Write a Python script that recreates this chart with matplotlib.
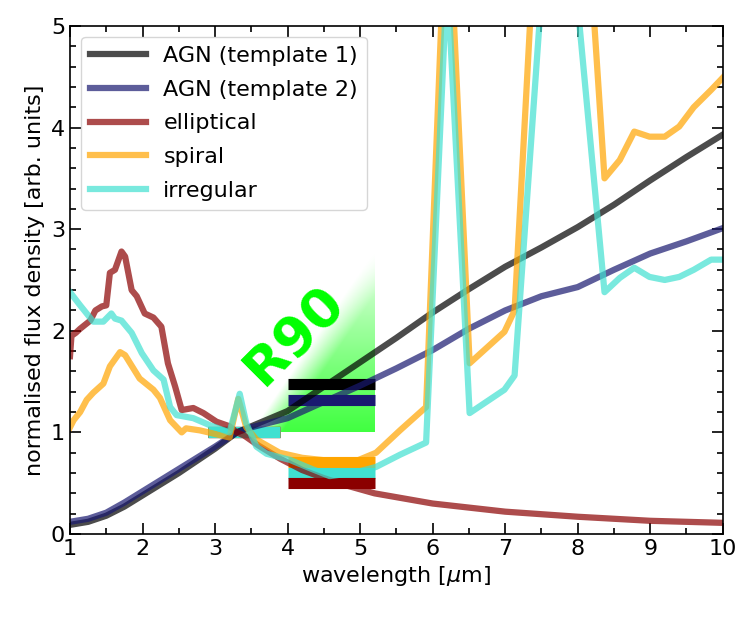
import numpy as np
import matplotlib
matplotlib.use("Agg")
import matplotlib.pyplot as plt
from matplotlib.ticker import MultipleLocator

# template SEDs, normalised at 3.4 micron
agn1_x = [1.0, 1.25, 1.5, 1.75, 2.0, 2.25, 2.5, 2.75, 3.0, 3.3, 3.5, 4.0, 4.5, 5.0,
          5.5, 6.0, 6.5, 7.0, 7.5, 8.0, 8.5, 9.0, 9.5, 10.0]
agn1_y = [0.09, 0.12, 0.18, 0.27, 0.38, 0.49, 0.60, 0.72, 0.84, 1.0, 1.06, 1.21, 1.45, 1.69,
          1.93, 2.18, 2.41, 2.63, 2.82, 3.02, 3.24, 3.48, 3.71, 3.93]

agn2_x = [1.0, 1.25, 1.5, 1.75, 2.0, 2.25, 2.5, 2.75, 3.0, 3.3, 3.5, 4.0, 4.5, 5.0,
          5.5, 6.0, 6.5, 7.0, 7.5, 8.0, 8.5, 9.0, 9.5, 10.0]
agn2_y = [0.12, 0.15, 0.21, 0.31, 0.42, 0.53, 0.64, 0.75, 0.86, 1.0, 1.05, 1.14, 1.30, 1.46,
          1.63, 1.81, 2.02, 2.2, 2.34, 2.43, 2.6, 2.76, 2.88, 3.01]

ell_x = [1.0, 1.02, 1.08, 1.14, 1.28, 1.35, 1.44, 1.5, 1.55, 1.62, 1.71, 1.76, 1.85, 1.92,
         2.03, 2.15, 2.26, 2.35, 2.45, 2.54, 2.7, 2.84, 3.02, 3.2, 3.3, 3.4, 3.6, 3.9,
         4.2, 4.5, 4.8, 5.2, 6.0, 7.0, 8.0, 9.0, 10.0]
ell_y = [1.75, 1.95, 1.98, 2.02, 2.1, 2.2, 2.24, 2.25, 2.57, 2.6, 2.78, 2.73, 2.4, 2.34,
         2.17, 2.13, 2.04, 1.68, 1.45, 1.22, 1.24, 1.19, 1.105, 1.06, 1.0, 0.97, 0.87, 0.74,
         0.63, 0.55, 0.48, 0.40, 0.30, 0.22, 0.17, 0.13, 0.11]

spi_x = [1.0, 1.05, 1.14, 1.23, 1.32, 1.46, 1.55, 1.69, 1.76, 1.96, 2.15, 2.24, 2.38, 2.54,
         2.6, 2.79, 2.97, 3.2, 3.32, 3.43, 3.57, 3.89, 4.2, 4.58, 4.95, 5.22, 5.55, 5.91,
         6.2, 6.51, 6.99, 7.13, 7.5, 8.0, 8.37, 8.58, 8.78, 8.99, 9.2, 9.4, 9.6, 9.84, 10.0]
spi_y = [1.05, 1.12, 1.2, 1.32, 1.39, 1.48, 1.65, 1.79, 1.76, 1.53, 1.42, 1.34, 1.12, 1.0,
         1.04, 1.02, 0.99, 0.95, 1.33, 1.05, 0.93, 0.8, 0.75, 0.72, 0.72, 0.8, 1.02, 1.25,
         6.5, 1.68, 1.99, 2.2, 7.1, 7.5, 3.5, 3.68, 3.96, 3.91, 3.91, 4.01, 4.2, 4.37, 4.49]

irr_x = [1.0, 1.14, 1.32, 1.46, 1.57, 1.62, 1.71, 1.85, 1.99, 2.15, 2.29, 2.38, 2.47, 2.7,
         2.93, 3.2, 3.34, 3.43, 3.57, 3.71, 4.03, 4.3, 4.58, 4.9, 5.22, 5.55, 5.91, 6.2,
         6.51, 6.99, 7.13, 7.5, 8.0, 8.37, 8.58, 8.78, 8.99, 9.2, 9.4, 9.6, 9.84, 10.0]
irr_y = [2.38, 2.25, 2.09, 2.09, 2.17, 2.12, 2.1, 1.98, 1.78, 1.61, 1.52, 1.25, 1.17, 1.14,
         1.07, 1.0, 1.38, 1.09, 0.86, 0.79, 0.73, 0.65, 0.57, 0.6, 0.66, 0.78, 0.9, 5.5,
         1.19, 1.42, 1.56, 5.3, 5.2, 2.38, 2.52, 2.62, 2.53, 2.5, 2.53, 2.6, 2.7, 2.7]

labels = ["AGN (template 1)", "AGN (template 2)", "elliptical", "spiral", "irregular"]
line_colors = ["black", "midnightblue", "darkred", "orange", "turquoise"]

# band-averaged fluxes: W1 (2.9-3.9) and W2 (4.0-5.2)
w1_band = [2.9, 3.9]
w2_band = [4.0, 5.2]
w1_flux = [1.0, 1.0, 1.0, 1.0, 1.0]
w2_flux = [1.478, 1.314, 0.50, 0.71, 0.60]
w2_order = [0, 1, 3, 4, 2]  # drawing order of the W2 bars

fig, ax = plt.subplots(figsize=(7.56, 6.17), dpi=100)
fig.subplots_adjust(left=0.0926, right=0.956, bottom=0.1345, top=0.958)

# green R90 colour-cut wedge
gx = np.linspace(3.5, 5.2, 300)
gy = np.linspace(1.0, 2.8, 300)
GX, GY = np.meshgrid(gx, gy)
t = (GX - 3.5) / 1.7 - (GY - 1.0) / 1.8
fade = np.clip((2.8 - GY) / 1.8, 0, 1) ** 0.8
alpha = 0.75 * np.clip(t / 0.25, 0, 1) * fade
img = np.zeros(GX.shape + (4,))
img[..., 1] = 1.0
img[..., 3] = alpha
ax.imshow(img, extent=[3.5, 5.2, 1.0, 2.8], origin="lower", aspect="auto", zorder=0,
          interpolation="bilinear")

for fw1, c in zip(w1_flux, line_colors):
    ax.plot(w1_band, [fw1, fw1], color=c, lw=8, solid_capstyle="butt", zorder=1)
for i in w2_order:
    ax.plot(w2_band, [w2_flux[i], w2_flux[i]], color=line_colors[i], lw=8,
            solid_capstyle="butt", zorder=1)

series = [(agn1_x, agn1_y), (agn2_x, agn2_y), (ell_x, ell_y), (spi_x, spi_y), (irr_x, irr_y)]
for (xs, ys), c, lab in zip(series, line_colors, labels):
    ax.plot(xs, ys, color=c, alpha=0.7, lw=4.5, label=lab, zorder=2)

ax.text(4.1, 1.95, "R90", color="lime", fontsize=39, fontweight="bold", rotation=45,
        ha="center", va="center", zorder=3)

ax.set_xlim(1, 10)
ax.set_ylim(0, 5)
ax.xaxis.set_major_locator(MultipleLocator(1))
ax.xaxis.set_minor_locator(MultipleLocator(0.5))
ax.yaxis.set_major_locator(MultipleLocator(1))
ax.yaxis.set_minor_locator(MultipleLocator(0.2))
ax.tick_params(which="both", direction="in", top=True, right=True, labelsize=16, width=1.2)
ax.tick_params(which="major", length=8)
ax.tick_params(which="minor", length=4)
for s in ax.spines.values():
    s.set_linewidth(1.2)

ax.set_xlabel(r"wavelength [$\mu$m]", fontsize=16)
ax.set_ylabel("normalised flux density [arb. units]", fontsize=16)
ax.legend(loc="upper left", fontsize=16, handlelength=2.5, labelspacing=0.62)

fig.savefig("out.png", dpi=100)
